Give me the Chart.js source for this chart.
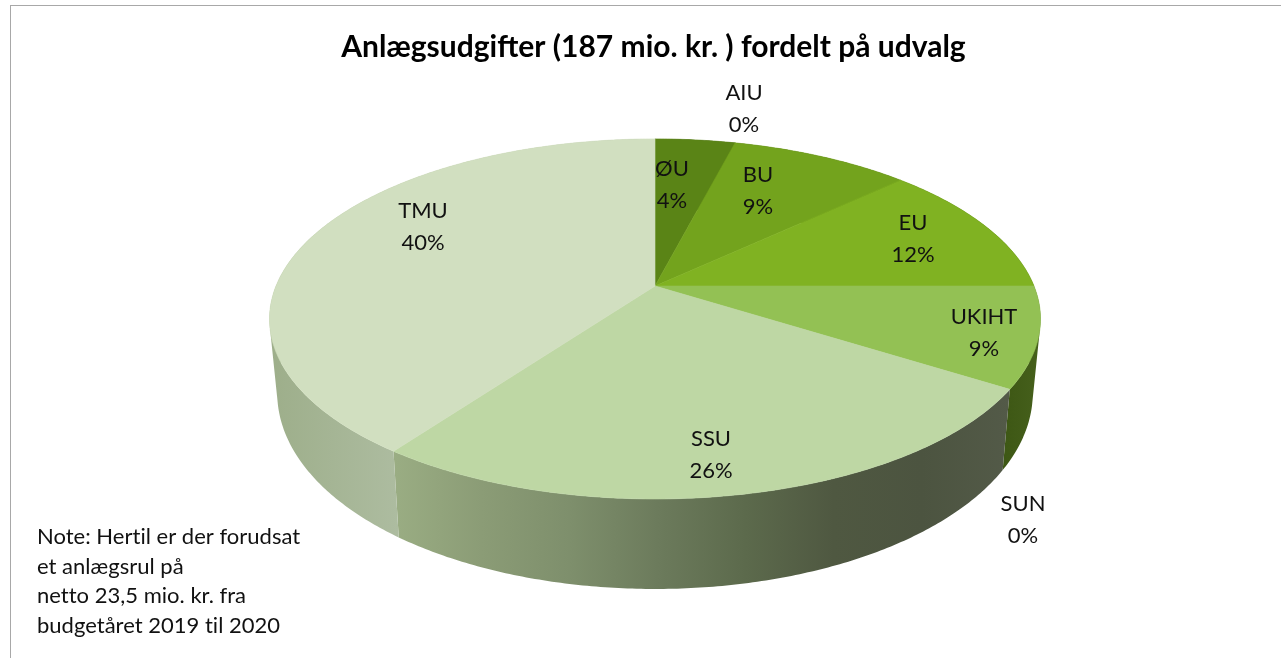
<!DOCTYPE html>
<html>
<head>
<meta charset="utf-8">
<title>Anlægsudgifter</title>
<script src="https://cdn.jsdelivr.net/npm/chart.js@4"></script>
<style>
    html, body { margin: 0; padding: 0; background: #fff; overflow: hidden; }
    #frame { position: absolute; left: 10px; top: 5px; right: 0; bottom: 0; border-left: 1px solid #a8a8a8; border-top: 1px solid #a8a8a8; }
    #pieChart { position: absolute; left: 0; top: 0; }
</style>
</head>
<body>
<div id="frame"></div>
<canvas id="pieChart" width="1281" height="658"></canvas>
<script>
const categories = ["ØU", "AIU", "BU", "EU", "UKIHT", "SUN", "SSU", "TMU"];
const shares = [4, 0, 9, 12, 9, 0, 26, 40];
const noteLines = ["Note: Hertil er der forudsat", "et anlægsrul på", "netto 23,5 mio. kr. fra", "budgetåret 2019 til 2020"];

const topColors = ["#5a8416", "#668f18", "#73a31d", "#80b222", "#93c154", "#3f5a14", "#bed7a4", "#d1dfc0"];
const sideColors = [
    ["#3a5510", "#3a5510"],
    ["#3a5510", "#3a5510"],
    ["#3a5510", "#3a5510"],
    ["#3a5510", "#3a5510"],
    ["#3d5714", "#46601c"],
    ["#3d5714", "#3d5714"],
    ["#9aad83", "#8b9c76", "#7e8f6c", "#6c7b5c", "#5c6a4c", "#4f5841", "#4c5440", "#535a48"],
    ["#9dae8a", "#adbca0", "#b3c1a6", "#aab9a0"]
];

// where each label sits on the page (centre of the two lines)
const labelSpots = {
    "ØU": [672, 185], "AIU": [744, 109], "BU": [758, 191], "EU": [913, 239],
    "UKIHT": [984, 333], "SUN": [1023, 520], "SSU": [711, 455], "TMU": [423, 227]
};

// the tilted pie: unit circle -> page, nearer edge is drawn bigger
const tilt = { cx: 655, cy: 286, rx: 379, ry: 174, k: 0.183 };

function project(a) {
    const u = Math.cos(a), v = Math.sin(a), w = 1 - tilt.k * v;
    return [tilt.cx + tilt.rx * u / w, tilt.cy + tilt.ry * v / w];
}

// same rim, one wall height lower and a bit narrower
function projectBase(a) {
    const pt = project(a);
    const depth = 70 + 20 * Math.max(Math.sin(a), 0);
    return [tilt.cx + (pt[0] - tilt.cx) * 0.98, pt[1] + depth];
}

function angleSteps(from, to) {
    const steps = Math.max(2, Math.ceil((to - from) / 0.01));
    const list = [];
    for (let i = 0; i <= steps; i++) list.push(from + (to - from) * i / steps);
    return list;
}

function addPolygon(ctx, pts) {
    pts.forEach((pt, i) => i ? ctx.lineTo(pt[0], pt[1]) : ctx.moveTo(pt[0], pt[1]));
    ctx.closePath();
}

// all quads need the same winding or overlaps punch holes in one fill
function signedArea(pts) {
    let sum = 0;
    pts.forEach((pt, i) => {
        const next = pts[(i + 1) % pts.length];
        sum += pt[0] * next[1] - next[0] * pt[1];
    });
    return sum;
}

const tiltedPie = {
    id: "tiltedPie",
    beforeDatasetsDraw(chart) {
        const ctx = chart.ctx;
        const arcs = chart.getDatasetMeta(0).data;
        ctx.save();

        // walls first, small quads so the side edges of the drum stay straight
        arcs.forEach((arc, i) => {
            if (arc.endAngle - arc.startAngle <= 0) return;
            const angles = angleSteps(arc.startAngle, arc.endAngle);
            const xs = angles.map(a => project(a)[0]).concat(angles.map(a => projectBase(a)[0]));
            const grad = ctx.createLinearGradient(Math.min(...xs), 0, Math.max(...xs), 0);
            sideColors[i].forEach((c, n) => grad.addColorStop(n / (sideColors[i].length - 1), c));
            ctx.fillStyle = grad;
            ctx.beginPath();
            for (let n = 0; n < angles.length - 1; n++) {
                const quad = [project(angles[n]), project(angles[n + 1]), projectBase(angles[n + 1]), projectBase(angles[n])];
                addPolygon(ctx, signedArea(quad) < 0 ? quad.reverse() : quad);
            }
            ctx.fill();
        });

        arcs.forEach(arc => {
            if (arc.endAngle - arc.startAngle <= 0) return;
            const pts = [[tilt.cx, tilt.cy]].concat(angleSteps(arc.startAngle, arc.endAngle).map(project));
            ctx.beginPath();
            addPolygon(ctx, pts);
            ctx.fillStyle = arc.options.backgroundColor;
            ctx.strokeStyle = arc.options.backgroundColor;
            ctx.lineWidth = 0.6;
            ctx.fill();
            ctx.stroke();
        });

        ctx.restore();
        return false;
    },
    afterDraw(chart) {
        const ctx = chart.ctx;
        ctx.save();
        ctx.fillStyle = "#111";
        ctx.font = "22px Lato";
        ctx.textAlign = "center";
        ctx.textBaseline = "middle";
        categories.forEach((name, i) => {
            const spot = labelSpots[name];
            ctx.fillText(name, spot[0], spot[1] - 16);
            ctx.fillText(shares[i] + "%", spot[0], spot[1] + 16);
        });
        ctx.textAlign = "left";
        ctx.letterSpacing = "0.01px";
        noteLines.forEach((line, i) => {
            ctx.fillText(line, 37, 537 + i * 29.7);
        });
        ctx.restore();
    }
};

new Chart(document.getElementById("pieChart").getContext("2d"), {
    type: "pie",
    data: {
        labels: categories,
        datasets: [{
            data: shares,
            backgroundColor: topColors,
            borderWidth: 0
        }]
    },
    options: {
        responsive: false,
        animation: false,
        layout: { padding: { left: 26, top: 9 } },
        plugins: {
            legend: { display: false },
            tooltip: { enabled: false },
            title: {
                display: true,
                text: "Anlægsudgifter (187 mio. kr. ) fordelt på udvalg",
                color: "#000",
                font: { family: "Lato", size: 30, weight: "bold" },
                padding: { top: 20, bottom: 10 }
            }
        }
    },
    plugins: [tiltedPie]
});
</script>
</body>
</html>
